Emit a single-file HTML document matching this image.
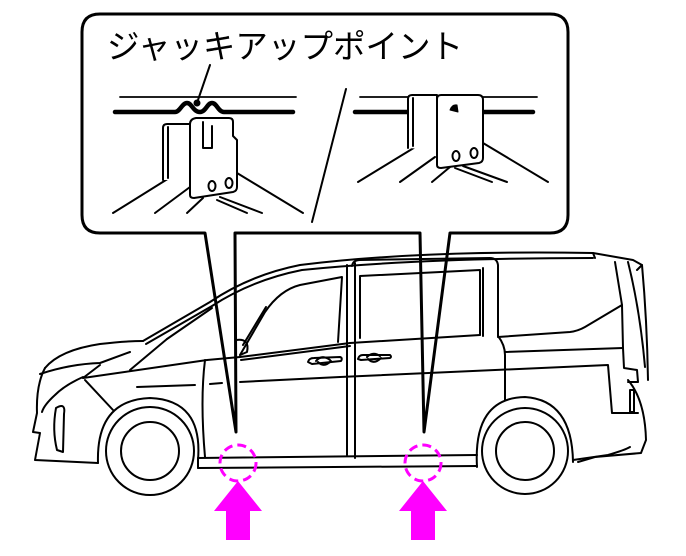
<!DOCTYPE html>
<html><head><meta charset="utf-8"><style>
html,body{margin:0;padding:0;background:#fff;}
svg{display:block;}
</style></head><body>
<svg width="686" height="556" viewBox="0 0 686 556" xmlns="http://www.w3.org/2000/svg">
<g fill="none" stroke="#000" stroke-linejoin="round" stroke-linecap="round">
<path d="M205,233 L100,233 Q82,233 82,215 L82,32 Q82,14 100,14 L550,14 Q568,14 568,32 L568,215 Q568,233 550,233 L450,233 L424,432 L420,233 L235,233 L236,432 Z" fill="#fff" stroke-width="3"/>
</g>
<text x="107" y="58" font-family="'Liberation Sans','Noto Sans CJK JP',sans-serif" font-size="33" fill="#000" textLength="356" lengthAdjust="spacingAndGlyphs">ジャッキアップポイント</text>
<g fill="none" stroke="#000" stroke-linejoin="round" stroke-linecap="round" stroke-width="2">
<line x1="210" y1="65" x2="198" y2="100"/>
<circle cx="197" cy="103" r="2.5" fill="#000"/>
<line x1="120" y1="97" x2="296" y2="97" stroke-width="1.8"/>
<path d="M115,112 L175,112 C180,112 182,103 187,103 C192,103 193,112 200,112 C206,112 207,103 212,103 C217,103 218,112 224,112 L293,112" stroke-width="4.5"/>
<line x1="113" y1="213" x2="190" y2="165"/>
<line x1="155" y1="213" x2="190" y2="187"/>
<line x1="187" y1="213" x2="203" y2="198"/>
<line x1="237" y1="173" x2="303" y2="213"/>
<line x1="220" y1="197" x2="262" y2="213"/>
<line x1="217" y1="200" x2="247" y2="213"/>
<path d="M163,180 L163,128 Q163,124 167,124 L192,124 L192,180" fill="#fff"/>
<line x1="168" y1="127" x2="168" y2="178"/>
<path d="M190,124 L190,195 Q190,198 194,198 L233,192 Q237,191 237,187 L237,140 L233,136 L233,122 Q233,118 229,118 L196,118 Q190,119 190,124 Z" fill="#fff"/>
<path d="M203,122 L203,148 L212,148 L212,126"/>
<ellipse cx="212" cy="186" rx="3.5" ry="5"/>
<ellipse cx="229" cy="183" rx="3.5" ry="5"/>
<line x1="346" y1="89" x2="312" y2="222"/>
<line x1="360" y1="97" x2="537" y2="97" stroke-width="1.8"/>
<path d="M355,112 L455,112 C456,104 462,104 465,112 L533,112" stroke-width="4.5"/>
<line x1="358" y1="182" x2="435" y2="135"/>
<line x1="400" y1="182" x2="435" y2="157"/>
<line x1="432" y1="182" x2="450" y2="167"/>
<line x1="483" y1="143" x2="548" y2="182"/>
<line x1="463" y1="166" x2="507" y2="182"/>
<line x1="455" y1="168" x2="492" y2="182"/>
<path d="M408,148 L408,99 Q408,95 412,95 L437,95 L437,150" fill="#fff"/>
<line x1="413" y1="98" x2="413" y2="146"/>
<path d="M437,97 L437,165 Q437,168 441,168 L479,163 Q483,162 483,158 L483,112 M483,112 L483,100 Q483,95 478,95 L441,95 Q437,95 437,99" fill="#fff"/>
<ellipse cx="456" cy="156" rx="3.5" ry="5"/>
<ellipse cx="474" cy="153" rx="3.5" ry="5"/>
<path d="M450,110 Q452,104 457,105 L458,112 Z" fill="#000" stroke-width="1"/>
</g>

<g fill="none" stroke="#000" stroke-linejoin="round" stroke-linecap="round" stroke-width="2">
<path d="M143,341 L210,302 Q250,275 300,265 Q420,250 593,253 L633,260 L642,265 L637,270"/>
<path d="M146,344 L212,306 Q252,280 302,270 Q420,258 593,258"/>
<path d="M167,339 L212,308"/>
<path d="M593,253 L595,258"/>
<path d="M240,355 L265,312 Q280,290 300,285 L342,277 L338,342"/>
<path d="M243,345 L266,307"/>
<path d="M240,357 L350,343 L480,335"/>
<path d="M241,360 L350,346"/>
<path d="M236,340 Q250,338 247,352 L240,355"/>
<path d="M360,338 L360,276 L480,270 L480,335"/>
<path d="M352,266 Q353,260 360,260 L490,258 Q497,258 498,265 L498,336"/>
<line x1="483" y1="268" x2="483" y2="336"/>
<path d="M498,337 L570,332 Q578,331 585,327 L622,305"/>
<path d="M505,352 L623,348"/>
<path d="M498,336 Q505,345 505,355 L505,400"/>
<path d="M615,262 L622,305 L623,348 L624,368 L637,370 L638,382 L628,382"/>
<path d="M628,262 Q640,310 645,367"/>
<path d="M642,265 Q647,320 648,380"/>
<path d="M628,380 Q645,400 646,440 L641,453 L595,457 L578,462"/>
<path d="M630,390 L634,390 L634,412 L630,412 Z"/>
<path d="M340,377 L608,365 L612,413 L638,413"/>
<path d="M83,378 L207,360 L240,357"/>
<path d="M137,387 L195,385 M210,384 L222,383 M240,382 L340,377"/>
<path d="M308,362 Q309,358 314,358 L340,357 Q343,358 341,361 L312,364 Z"/>
<path d="M316,361 Q322,354 330,360 M318,362 Q324,368 331,361"/>
<path d="M358,359 Q359,355 363,355 L390,355 Q392,357 390,358 L361,360 Z"/>
<path d="M367,357 Q373,351 380,356 M368,359 Q374,365 381,358"/>
<path d="M347,265 L347,455"/>
<path d="M355,263 L355,458"/>
<path d="M205,360 Q200,400 205,457"/>
<!-- front -->
<path d="M45,368 Q60,350 100,344 Q125,341 143,341"/>
<path d="M40,374 Q70,364 100,363 L130,352"/>
<path d="M130,370 L167,339"/>
<path d="M45,368 Q36,385 37,413 L33,432 L40,433 L35,460 L98,463"/>
<path d="M83,377 Q65,385 55,395 Q44,405 42,412"/>
<path d="M83,378 L100,365"/>
<path d="M85,380 L113,410"/>
<path d="M56,408 Q66,402 64,414 L63,452 L57,450 Q52,430 56,408 Z"/>
<path d="M98,463 Q96,400 150,398 Q203,400 198,460"/>
<circle cx="150" cy="451" r="44"/>
<circle cx="150" cy="451" r="29"/>
<path d="M198,458 L477,455"/>
<path d="M198,468 L477,466"/>
<line x1="198" y1="458" x2="198" y2="468"/>
<path d="M477,467 Q473,398 525,397 Q572,400 573,462"/>
<circle cx="525" cy="451" r="43"/>
<circle cx="525" cy="451" r="29"/>
<path d="M573,460 L608,455 Q625,450 630,447"/>
</g>
<g fill="none" stroke="#ff00ff" stroke-width="3" stroke-dasharray="9,5">
<circle cx="238" cy="463" r="18"/>
<circle cx="423" cy="463" r="18"/>
</g>
<g fill="#ff00ff">
<path d="M238,481 L262,511 L250,511 L250,540 L226,540 L226,511 L214,511 Z"/>
<path d="M423,481 L447,511 L435,511 L435,540 L411,540 L411,511 L399,511 Z"/>
</g>
</svg>
</body></html>
